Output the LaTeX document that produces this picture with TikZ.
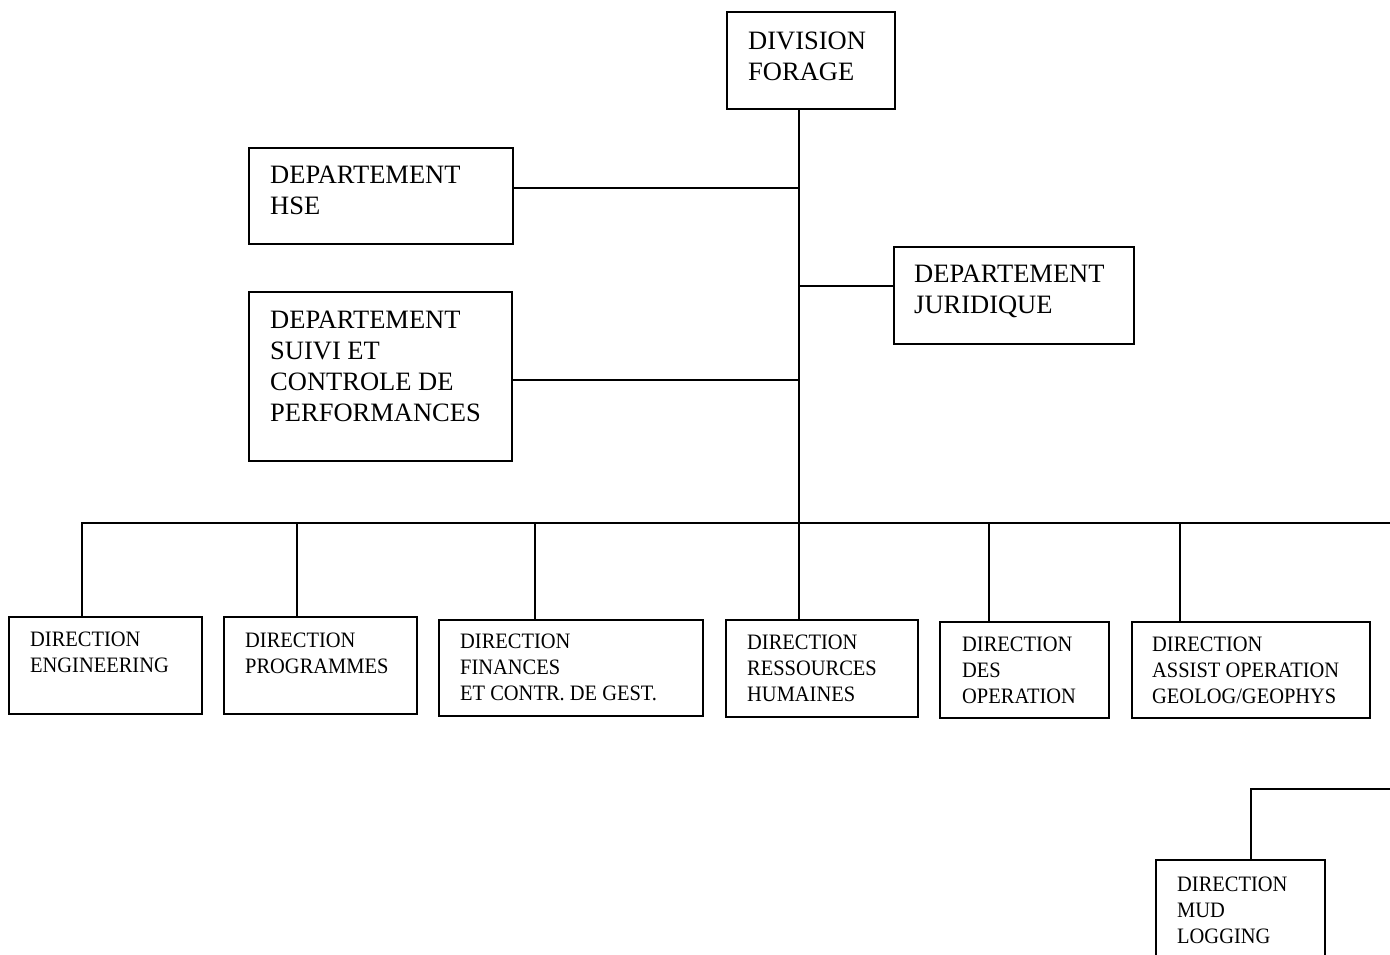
\documentclass[tikz,border=0pt]{standalone}
\usepackage{fontspec}
\setmainfont{Liberation Serif}
\newfontfamily\condfont[FakeStretch=0.93]{Liberation Serif}
\begin{document}
\begin{tikzpicture}[x=1pt,y=-1pt,
  box/.style={draw,line width=2.6pt,inner sep=0pt,minimum width=#1},
  bigtxt/.style={anchor=north west,inner sep=0pt,align=left,yshift=-2pt,font=\fontsize{26.5}{31}\selectfont},
  smalltxt/.style={anchor=north west,inner sep=0pt,align=left,yshift=-1pt,font=\condfont\fontsize{22}{26}\selectfont},
  conn/.style={line width=2.6pt}]
\useasboundingbox (0,0) rectangle (1390,954);
\clip (0,0) rectangle (1390,954);
% top
\node[box=168,minimum height=97] (div) at (811,60.5) {};
\node[bigtxt] (divt) at (748,30) {DIVISION\\FORAGE};
\node[box=264,minimum height=96] (hse) at (381,196) {};
\node[bigtxt] (hset) at (270,164) {DEPARTEMENT\\HSE};
\node[box=263,minimum height=169] (suivi) at (380.5,376.5) {};
\node[bigtxt] (suivit) at (270,309) {DEPARTEMENT\\SUIVI ET\\CONTROLE DE\\PERFORMANCES};
\node[box=240,minimum height=97] (jur) at (1014,295.5) {};
\node[bigtxt] (jurt) at (914,263) {DEPARTEMENT\\JURIDIQUE};
% bottom row
\node[box=193,minimum height=97] (eng) at (105.5,665.5) {};
\node[smalltxt] (engt) at (30,631) {DIRECTION\\ENGINEERING};
\node[box=193,minimum height=97] (prog) at (320.5,665.5) {};
\node[smalltxt] (progt) at (245,632) {DIRECTION\\PROGRAMMES};
\node[box=264,minimum height=96] (fin) at (571,668) {};
\node[smalltxt] (fint) at (460,633) {DIRECTION\\FINANCES\\ET CONTR. DE GEST.};
\node[box=192,minimum height=97] (rh) at (822,668.5) {};
\node[smalltxt] (rht) at (747,634) {DIRECTION\\RESSOURCES\\HUMAINES};
\node[box=169,minimum height=96] (op) at (1024.5,670) {};
\node[smalltxt] (opt) at (962,636) {DIRECTION\\DES\\OPERATION};
\node[box=238,minimum height=96] (geo) at (1251,670) {};
\node[smalltxt] (geot) at (1152,636) {DIRECTION\\ASSIST OPERATION\\GEOLOG/GEOPHYS};
\node[box=169,minimum height=140] (mud) at (1240.5,930) {};
\node[smalltxt] (mudt) at (1177,876) {DIRECTION\\MUD\\LOGGING};
% connectors
\coordinate (trunk) at (799,0);
\coordinate (bus) at (0,523);
\coordinate (busR) at (1390,523);
\coordinate (mudR) at (1390,789);
\draw[conn] (div.south -| trunk) -- (rh.north -| trunk);
\draw[conn] (hse.east |- 0,188) -- (trunk |- 0,188);
\draw[conn] (suivi.east |- 0,380) -- (trunk |- 0,380);
\draw[conn] (jur.west |- 0,286) -- (trunk |- 0,286);
\draw[conn] (eng.north -| 82,0) -- (82,523) -- (busR);
\draw[conn] (prog.north -| 297,0) -- (bus -| 297,0);
\draw[conn] (fin.north -| 535,0) -- (bus -| 535,0);
\draw[conn] (op.north -| 989,0) -- (bus -| 989,0);
\draw[conn] (geo.north -| 1180,0) -- (bus -| 1180,0);
\draw[conn] (mudR) -- (1251,789) -- (mud.north -| 1251,0);
\end{tikzpicture}
\end{document}
